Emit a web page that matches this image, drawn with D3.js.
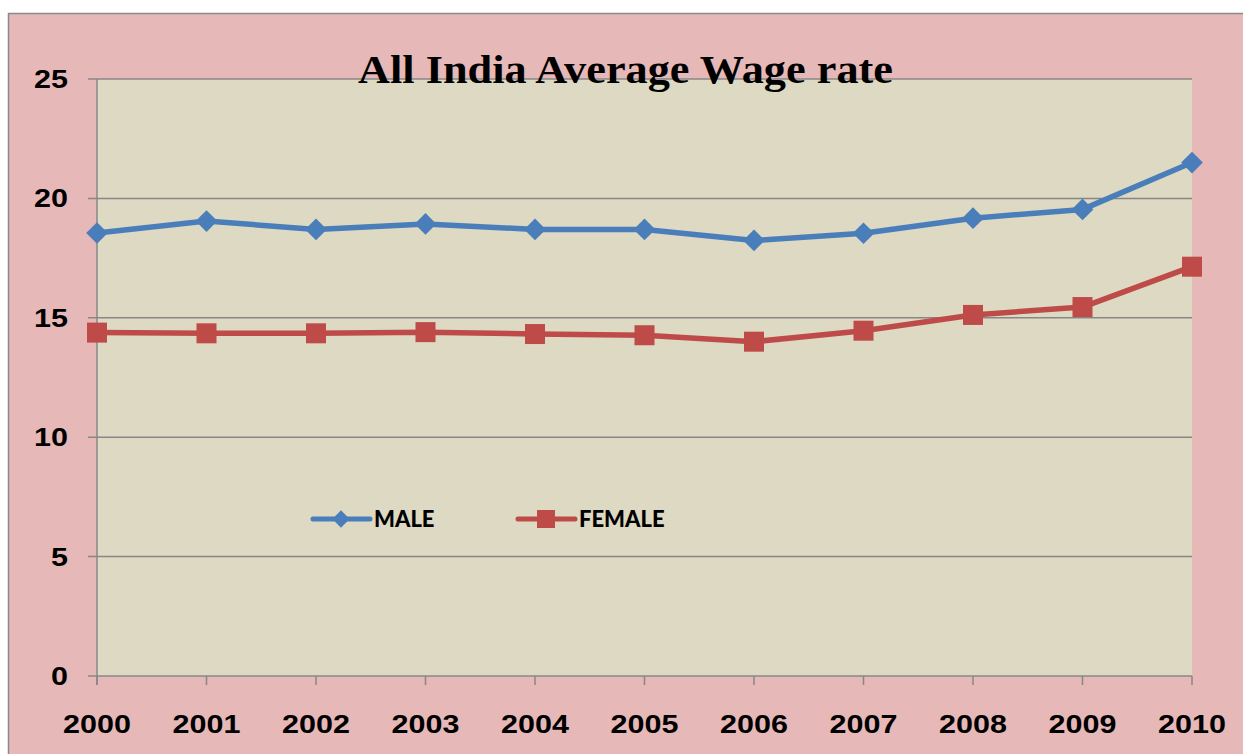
<!DOCTYPE html>
<html>
<head>
<meta charset="utf-8">
<script src="https://cdn.jsdelivr.net/npm/d3@7"></script>
<style>
  body { margin: 0; background: #fff; }
</style>
</head>
<body>
<div id="chart"></div>
<script>
var years = [2000, 2001, 2002, 2003, 2004, 2005, 2006, 2007, 2008, 2009, 2010];
var male = [18.55, 19.05, 18.7, 18.93, 18.7, 18.7, 18.24, 18.54, 19.17, 19.54, 21.5];
var female = [14.38, 14.35, 14.35, 14.4, 14.32, 14.27, 14.0, 14.46, 15.12, 15.45, 17.14];
var yTicks = [0, 5, 10, 15, 20, 25];

(function(){
  var width = 1243, height = 754;
  var left = 97, right = 1192, top = 79, bottom = 676;

  var svg = d3.select('#chart').append('svg')
    .attr('width', width)
    .attr('height', height);

  // outer chart area
  svg.append('rect')
    .attr('x', 8.5).attr('y', 13.5)
    .attr('width', width + 10).attr('height', height + 10)
    .attr('fill', '#e6b8b7')
    .attr('stroke', '#8a8a8a').attr('stroke-width', 1.5);

  var x = d3.scalePoint().domain(years).range([left, right]);
  var y = d3.scaleLinear().domain([0, 25]).range([bottom, top]);

  // plot area
  svg.append('rect')
    .attr('x', left).attr('y', top)
    .attr('width', right - left).attr('height', bottom - top)
    .attr('fill', '#ddd9c3');

  // gridlines + y ticks
  svg.selectAll('line.grid')
    .data(yTicks)
    .enter()
    .append('line')
      .attr('class', 'grid')
      .attr('x1', left - 9).attr('x2', right)
      .attr('y1', function(d){ return y(d); })
      .attr('y2', function(d){ return y(d); })
      .attr('stroke', '#878787').attr('stroke-width', 1.5);

  // y axis line
  svg.append('line')
    .attr('x1', left).attr('x2', left)
    .attr('y1', top).attr('y2', bottom + 9)
    .attr('stroke', '#878787').attr('stroke-width', 1.5);

  // x ticks
  svg.selectAll('line.xtick')
    .data(years)
    .enter()
    .append('line')
      .attr('class', 'xtick')
      .attr('x1', function(d){ return x(d); })
      .attr('x2', function(d){ return x(d); })
      .attr('y1', bottom).attr('y2', bottom + 9)
      .attr('stroke', '#878787').attr('stroke-width', 1.5);

  // y labels
  svg.selectAll('text.ylab')
    .data(yTicks)
    .enter()
    .append('text')
      .attr('class', 'ylab')
      .text(function(d){ return d; })
      .attr('transform', function(d){ return 'translate(68,' + (y(d) + 9) + ') scale(1.22,1)'; })
      .attr('text-anchor', 'end')
      .attr('font-family', 'Liberation Sans, Arial, sans-serif')
      .attr('font-weight', 'bold')
      .attr('font-size', '25px')
      .attr('fill', '#000');

  // x labels
  svg.selectAll('text.xlab')
    .data(years)
    .enter()
    .append('text')
      .attr('class', 'xlab')
      .text(function(d){ return d; })
      .attr('transform', function(d){ return 'translate(' + x(d) + ',733) scale(1.22,1)'; })
      .attr('text-anchor', 'middle')
      .attr('font-family', 'Liberation Sans, Arial, sans-serif')
      .attr('font-weight', 'bold')
      .attr('font-size', '25px')
      .attr('fill', '#000');

  var line = d3.line()
    .x(function(d, i){ return x(years[i]); })
    .y(function(d){ return y(d); });

  var maleColor = '#4a7ebb', femaleColor = '#be4b48';

  svg.append('path')
    .datum(male)
    .attr('d', line)
    .attr('fill', 'none')
    .attr('stroke', maleColor)
    .attr('stroke-width', 5.5)
    .attr('stroke-linejoin', 'round');

  svg.append('path')
    .datum(female)
    .attr('d', line)
    .attr('fill', 'none')
    .attr('stroke', femaleColor)
    .attr('stroke-width', 5.5)
    .attr('stroke-linejoin', 'round');

  var diamond = d3.symbol().type(d3.symbolDiamond2).size(300);
  svg.selectAll('path.maleMark')
    .data(male)
    .enter()
    .append('path')
      .attr('class', 'maleMark')
      .attr('d', diamond)
      .attr('transform', function(d, i){ return 'translate(' + x(years[i]) + ',' + y(d) + ')'; })
      .attr('fill', maleColor);

  svg.selectAll('rect.femaleMark')
    .data(female)
    .enter()
    .append('rect')
      .attr('class', 'femaleMark')
      .attr('x', function(d, i){ return x(years[i]) - 10; })
      .attr('y', function(d){ return y(d) - 10; })
      .attr('width', 20).attr('height', 20)
      .attr('fill', femaleColor);

  // title
  svg.append('text')
    .text('All India Average Wage rate')
    .attr('x', 358).attr('y', 83)
    .attr('textLength', 535)
    .attr('lengthAdjust', 'spacingAndGlyphs')
    .attr('font-family', 'Liberation Serif, serif')
    .attr('font-weight', 'bold')
    .attr('font-size', '40px')
    .attr('fill', '#000');

  // legend
  var legend = [
    { name: 'MALE', color: maleColor, x: 313, marker: 'diamond' },
    { name: 'FEMALE', color: femaleColor, x: 518, marker: 'square' }
  ];
  var ly = 519;
  legend.forEach(function(l){
    svg.append('line')
      .attr('x1', l.x).attr('x2', l.x + 57)
      .attr('y1', ly).attr('y2', ly)
      .attr('stroke', l.color).attr('stroke-width', 5)
      .attr('stroke-linecap', 'round');
    if (l.marker === 'diamond') {
      svg.append('path')
        .attr('d', d3.symbol().type(d3.symbolDiamond2).size(190))
        .attr('transform', 'translate(' + (l.x + 28) + ',' + ly + ')')
        .attr('fill', l.color);
    } else {
      svg.append('rect')
        .attr('x', l.x + 28 - 9).attr('y', ly - 9)
        .attr('width', 18).attr('height', 18)
        .attr('fill', l.color);
    }
    svg.append('text')
      .text(l.name)
      .attr('x', l.x + 61).attr('y', ly + 8)
      .attr('font-family', 'Lato, Open Sans, sans-serif')
      .attr('font-weight', '900')
      .attr('font-size', '22px')
      .attr('fill', '#000');
  });
})();
</script>
</body>
</html>
